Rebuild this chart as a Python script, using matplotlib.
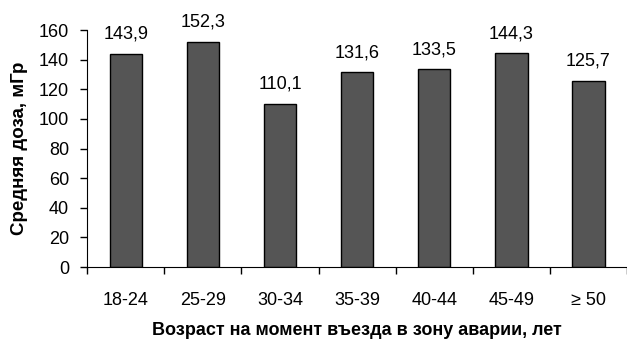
import matplotlib.pyplot as plt
import numpy as np

plt.rcParams['font.family'] = ['Liberation Sans', 'DejaVu Sans']

# age groups and mean dose
categories = ['18-24', '25-29', '30-34', '35-39', '40-44', '45-49', '≥ 50']
doses = [143.9, 152.3, 110.1, 131.6, 133.5, 144.3, 125.7]

fig = plt.figure(figsize=(6.27, 3.42), dpi=100)
ax = fig.add_axes([0.139, 0.219, 0.861, 0.693])

x = np.arange(len(categories))
ax.bar(x, doses, width=0.42, color='#555555', edgecolor='black', linewidth=1)

for xi, v in zip(x, doses):
    ax.annotate(f'{v:.1f}'.replace('.', ','), (xi, v), xytext=(0, 8),
                textcoords='offset points', ha='center', va='bottom', fontsize=13)

ax.set_xlim(-0.5, len(categories) - 0.5)
ax.set_ylim(0, 160)
ax.set_yticks(range(0, 161, 20))
ax.tick_params(axis='y', labelsize=13, length=5, width=1, pad=8)

# category labels centred, tick marks on the boundaries
ax.set_xticks(x)
ax.set_xticklabels(categories, fontsize=13)
ax.tick_params(axis='x', which='major', length=0, pad=18)
ax.set_xticks(np.arange(-0.5, len(categories)), minor=True)
ax.tick_params(axis='x', which='minor', length=5, width=1)

for s in ['top', 'right']:
    ax.spines[s].set_visible(False)

ax.set_ylabel('Средняя доза, мГр', fontsize=13.5, fontweight='bold', labelpad=8)
ax.set_xlabel('Возраст на момент въезда в зону аварии, лет', fontsize=13,
              fontweight='bold', labelpad=9)

fig.savefig('out.png', dpi=100)
